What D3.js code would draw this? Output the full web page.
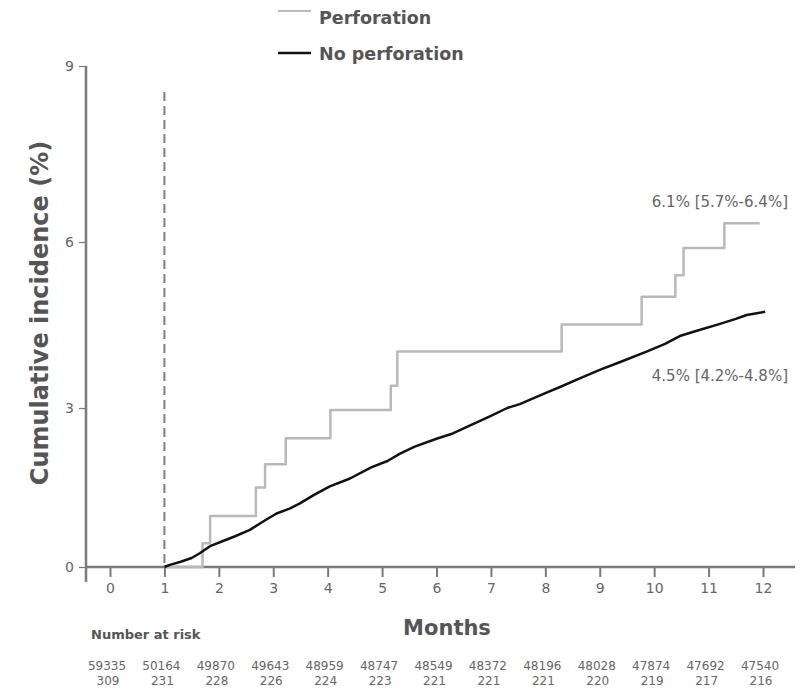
<!DOCTYPE html>
<html>
<head>
<meta charset="utf-8">
<script src="https://cdn.jsdelivr.net/npm/d3@7"></script>
<style>
    body { margin: 0; background: #fff; }
    svg { display: block; }
    text { font-family: 'DejaVu Sans', sans-serif; }
</style>
</head>
<body>
<div id="chart"></div>
<script>
// Months and cumulative incidence (%).
const perforation_months = [1.0, 1.70, 1.84, 2.68, 2.85, 3.23, 4.05, 5.16, 5.28, 8.30, 9.77, 10.39, 10.54, 11.29, 11.94];
const perforation_values = [0, 0.45, 0.96, 1.50, 1.94, 2.43, 2.96, 3.40, 4.02, 4.51, 5.01, 5.40, 5.89, 6.32, 6.32];

const no_perforation_months = [1.0, 1.1, 1.3, 1.5, 1.65, 1.85, 2.1, 2.3, 2.57, 2.8, 3.06, 3.3, 3.49, 3.75, 4.04,
    4.41, 4.8, 5.1, 5.33, 5.6, 6.0, 6.3, 6.55, 7.0, 7.3, 7.53, 8.0, 8.27, 8.6, 9.0, 9.4, 9.86, 10.2,
    10.47, 10.8, 11.21, 11.5, 11.7, 12.04];
const no_perforation_values = [0, 0.04, 0.10, 0.17, 0.26, 0.40, 0.50, 0.58, 0.70, 0.85, 1.01, 1.10, 1.20, 1.36, 1.52,
    1.67, 1.88, 2.00, 2.14, 2.27, 2.42, 2.52, 2.64, 2.85, 3.00, 3.07, 3.27, 3.38, 3.52, 3.69, 3.84, 4.02, 4.16,
    4.30, 4.40, 4.52, 4.61, 4.68, 4.74];

const x_ticks = [0, 1, 2, 3, 4, 5, 6, 7, 8, 9, 10, 11, 12];
const y_ticks = [0, 3, 6, 9];

const at_risk_no_perforation = [59335, 50164, 49870, 49643, 48959, 48747, 48549, 48372, 48196, 48028, 47874, 47692, 47540];
const at_risk_perforation = [309, 231, 228, 226, 224, 223, 221, 221, 221, 220, 219, 217, 216];

const series_names = ['Perforation', 'No perforation'];
const series_labels = ['6.1% [5.7%-6.4%]', '4.5% [4.2%-4.8%]'];

const width = 807;
const height = 692;

const svg = d3.select('#chart')
    .append('svg')
    .attr('width', width)
    .attr('height', height);

const x = d3.scaleLinear()
    .domain([0, 12])
    .range([110, 763]);

// The printed axis is not evenly spaced, so map each tick to its own spot.
const y = d3.scaleLinear()
    .domain([0, 3, 6, 9])
    .range([567, 408, 242, 66]);

const axis_color = '#7a7a7a';
const text_color = '#666';

// x axis
const x_axis = svg.append('g')
    .attr('transform', `translate(0, ${y(0)})`)
    .call(d3.axisBottom(x)
        .tickValues(x_ticks)
        .tickSize(10)
        .tickSizeOuter(0)
        .tickPadding(6));
x_axis.select('.domain').remove();
x_axis.append('line')
    .attr('x1', 86).attr('x2', 795)
    .attr('stroke', axis_color)
    .attr('stroke-width', 2.5);
x_axis.selectAll('.tick line')
    .attr('stroke', axis_color)
    .attr('stroke-width', 2);
x_axis.selectAll('.tick text')
    .attr('fill', text_color)
    .attr('font-size', 14)
    .attr('font-family', 'DejaVu Sans');

// y axis
const y_axis = svg.append('g')
    .attr('transform', 'translate(86, 0)')
    .call(d3.axisLeft(y)
        .tickValues(y_ticks)
        .tickSize(7)
        .tickSizeOuter(0)
        .tickPadding(5));
y_axis.select('.domain').remove();
y_axis.append('line')
    .attr('y1', y(9)).attr('y2', 582)
    .attr('stroke', axis_color)
    .attr('stroke-width', 2.5);
y_axis.selectAll('.tick line')
    .attr('stroke', axis_color)
    .attr('stroke-width', 1.2);
y_axis.selectAll('.tick text')
    .attr('fill', text_color)
    .attr('font-size', 14)
    .attr('font-family', 'DejaVu Sans');

// landmark at one month
svg.append('line')
    .attr('x1', x(1)).attr('x2', x(1))
    .attr('y1', 92).attr('y2', y(0))
    .attr('stroke', '#808080')
    .attr('stroke-width', 2)
    .attr('stroke-dasharray', '9 5');

const curves = [
    {name: series_names[0], color: '#b9b9b9', width: 2.5,
     points: perforation_months.map((m, i) => ({time: m, value: perforation_values[i]})),
     curve: d3.curveStepAfter},
    {name: series_names[1], color: '#111', width: 2.5,
     points: no_perforation_months.map((m, i) => ({time: m, value: no_perforation_values[i]})),
     curve: d3.curveLinear},
];

svg.selectAll('.curve')
    .data(curves)
    .join('path')
        .attr('class', 'curve')
        .attr('fill', 'none')
        .attr('stroke', (d) => d.color)
        .attr('stroke-width', (d) => d.width)
        .attr('stroke-linejoin', 'round')
        .attr('d', (d) => d3.line()
            .curve(d.curve)
            .x((p) => x(p.time))
            .y((p) => y(p.value))
            (d.points));

// estimates at twelve months
svg.append('text')
    .attr('x', 788).attr('y', 207)
    .attr('text-anchor', 'end')
    .attr('font-size', 15)
    .attr('fill', text_color)
    .text(series_labels[0]);
svg.append('text')
    .attr('x', 788).attr('y', 381)
    .attr('text-anchor', 'end')
    .attr('font-size', 15)
    .attr('fill', text_color)
    .text(series_labels[1]);

// legend
const legend = svg.append('g');
legend.selectAll('line')
    .data(curves)
    .join('line')
        .attr('x1', 278).attr('x2', 311)
        .attr('y1', (d, i) => 11 + i * 42)
        .attr('y2', (d, i) => 11 + i * 42)
        .attr('stroke', (d) => d.color)
        .attr('stroke-width', (d, i) => i === 0 ? 2 : 2.5);
legend.selectAll('text')
    .data(curves)
    .join('text')
        .attr('x', 319)
        .attr('y', (d, i) => 24 + i * 36)
        .attr('font-size', 17.5)
        .attr('font-weight', 'bold')
        .attr('fill', '#555')
        .text((d) => d.name);

// titles
svg.append('text')
    .attr('transform', 'translate(48, 313) rotate(-90)')
    .attr('text-anchor', 'middle')
    .attr('font-size', 24)
    .attr('font-weight', 'bold')
    .attr('fill', '#555')
    .text('Cumulative incidence (%)');

svg.append('text')
    .attr('x', 447).attr('y', 635)
    .attr('text-anchor', 'middle')
    .attr('font-size', 21)
    .attr('font-weight', 'bold')
    .attr('fill', '#555')
    .text('Months');

svg.append('text')
    .attr('x', 91).attr('y', 639)
    .attr('font-size', 13)
    .attr('font-weight', 'bold')
    .attr('fill', '#555')
    .text('Number at risk');

// number at risk table
const risk = svg.append('g')
    .attr('font-size', 12)
    .attr('fill', text_color)
    .attr('text-anchor', 'middle');
risk.selectAll('.row1')
    .data(at_risk_no_perforation)
    .join('text')
        .attr('class', 'row1')
        .attr('x', (d, i) => x(x_ticks[i]) - 3)
        .attr('y', 670)
        .text((d) => d);
risk.selectAll('.row2')
    .data(at_risk_perforation)
    .join('text')
        .attr('class', 'row2')
        .attr('x', (d, i) => x(x_ticks[i]) - 2)
        .attr('y', 685)
        .text((d) => d);
</script>
</body>
</html>
